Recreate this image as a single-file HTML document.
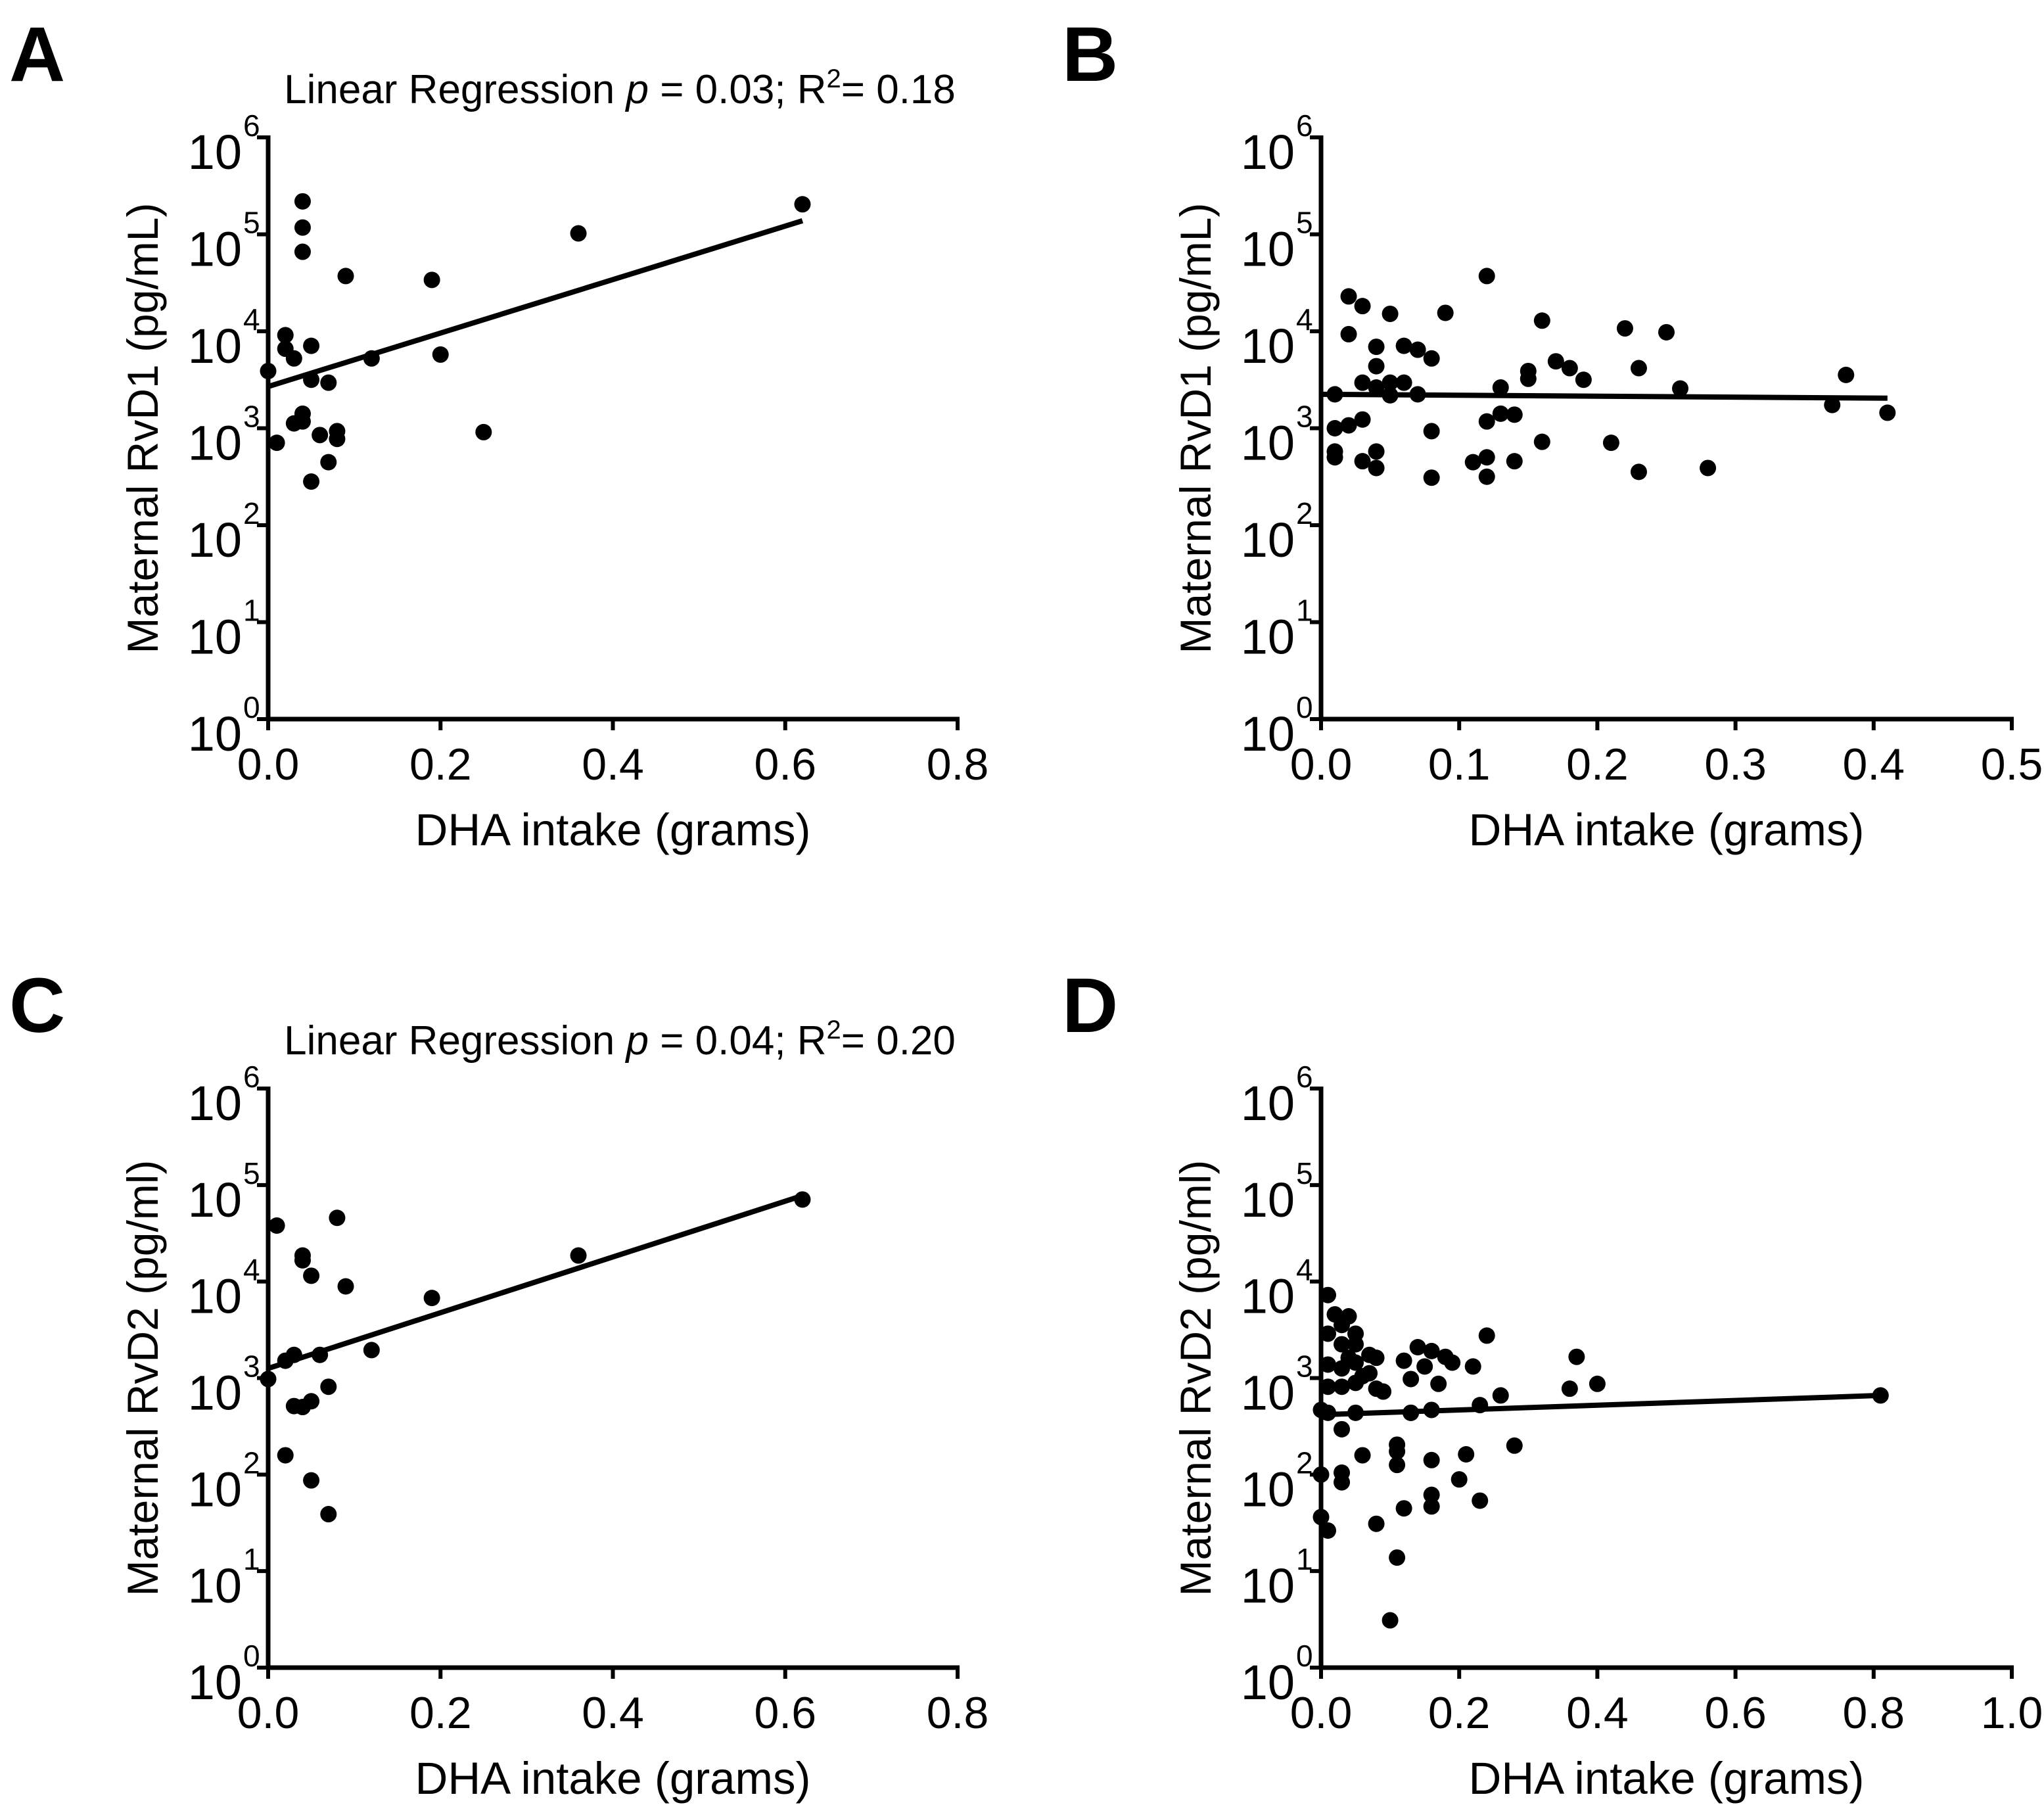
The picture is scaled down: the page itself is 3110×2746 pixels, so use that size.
<!DOCTYPE html>
<html><head><meta charset="utf-8"><style>
html,body{margin:0;padding:0;background:#fff;}
svg{display:block;font-family:"Liberation Sans",Arial,sans-serif;}
</style></head><body>
<svg id="fig" width="3110" height="2746" viewBox="0 0 3110 2746" xmlns="http://www.w3.org/2000/svg">
<rect width="3110" height="2746" fill="#fff"/>
</svg>
<script>
// Panel A data (DHA grams, log10 RvD1)
const aX = [0.04,0.04,0.04,0.09,0.19,0.36,0.62,0.02,0.02,0.03,0.05,0.0,0.12,0.20,0.05,0.07,0.04,0.04,0.03,0.01,0.06,0.08,0.08,0.25,0.07,0.05];
const aY = [5.34,5.07,4.82,4.57,4.53,5.01,5.31,3.96,3.82,3.72,3.85,3.59,3.72,3.76,3.50,3.47,3.15,3.07,3.05,2.85,2.93,2.97,2.89,2.96,2.65,2.45];
const aFit = [[0,3.43],[0.62,5.14]];
// Panel B
const bX = [0.02,0.03,0.05,0.09,0.12,0.02,0.04,0.06,0.07,0.08,0.16,0.17,0.18,0.19,0.15,0.15,0.22,0.23,0.25,0.26,0.04,0.03,0.04,0.05,0.05,0.06,0.07,0.01,0.13,0.38,0.37,0.41,0.03,0.02,0.01,0.08,0.12,0.13,0.14,0.16,0.21,0.01,0.01,0.03,0.04,0.04,0.11,0.12,0.14,0.08,0.12,0.23,0.28];
const bY = [4.36,4.26,4.18,4.19,4.57,3.97,3.84,3.85,3.81,3.72,4.11,3.69,3.62,3.50,3.59,3.51,4.03,3.62,3.99,3.41,3.64,3.47,3.42,3.47,3.34,3.47,3.35,3.35,3.42,3.55,3.24,3.16,3.09,3.03,3.00,2.97,3.07,3.15,3.14,2.86,2.85,2.76,2.70,2.66,2.76,2.59,2.65,2.70,2.66,2.49,2.50,2.55,2.59];
const bFit = [[0,3.35],[0.41,3.31]];
// Panel C
const cX = [0.01,0.08,0.04,0.04,0.05,0.09,0.19,0.36,0.62,0.12,0.02,0.03,0.06,0.0,0.07,0.03,0.04,0.05,0.02,0.05,0.07];
const cY = [4.58,4.66,4.27,4.22,4.06,3.95,3.83,4.27,4.85,3.29,3.18,3.24,3.24,2.99,2.91,2.71,2.70,2.76,2.20,1.94,1.59];
const cFit = [[0,3.10],[0.62,4.89]];
// Panel D
const dX = [0.01,0.02,0.03,0.04,0.05,0.01,0.01,0.03,0.05,0.04,0.07,0.08,0.03,0.05,0.07,0.05,0.06,0.01,0.03,0.08,0.0,0.01,0.03,0.05,0.09,0.14,0.12,0.16,0.18,0.19,0.13,0.15,0.17,0.13,0.16,0.24,0.22,0.23,0.26,0.37,0.36,0.40,0.81,0.0,0.03,0.03,0.06,0.08,0.11,0.11,0.11,0.12,0.13,0.16,0.16,0.16,0.20,0.21,0.23,0.28,0.0,0.01,0.11,0.10];
const dY = [3.86,3.66,3.55,3.64,3.46,3.46,3.14,3.35,3.35,3.21,3.24,3.21,3.10,3.16,3.05,2.95,3.02,2.91,2.91,2.89,2.67,2.64,2.47,2.64,2.86,3.32,3.18,3.28,3.22,3.16,2.99,3.12,2.94,2.64,2.67,3.44,3.12,2.72,2.82,3.22,2.89,2.94,2.82,2.00,2.02,1.92,2.20,1.49,2.31,2.24,2.10,1.65,2.64,2.15,1.79,1.67,1.95,2.21,1.73,2.30,1.56,1.42,1.14,0.49];
const dFit = [[0,2.62],[0.81,2.82]];
const xTicksA = ["0.0","0.2","0.4","0.6","0.8"];
const xTicksB = ["0.0","0.1","0.2","0.3","0.4","0.5"];
const xTicksD = ["0.0","0.2","0.4","0.6","0.8","1.0"];
const yExps = ["0","1","2","3","4","5","6"];

const NS = "http://www.w3.org/2000/svg";
const svg = document.getElementById('fig');
function mk(tag, attrs, parent, text){
  const e = document.createElementNS(NS, tag);
  for (const k in attrs) e.setAttribute(k, attrs[k]);
  if (text !== undefined) e.textContent = text;
  (parent||svg).appendChild(e);
  return e;
}

function panel(cfg){
  const g = mk('g', {});
  
  
  const xs = v => cfg.ax + (v / cfg.xmax) * (cfg.xEnd - cfg.ax);
  const ys = v => cfg.y0 - (v / 6) * (cfg.y0 - cfg.yTop);
  const ya = mk('line', {x1:cfg.ax, y1:cfg.yTop-3, x2:cfg.ax, y2:cfg.y0+3, stroke:'#000','stroke-width':7}, g);
  
  
  const xa = mk('line', {x1:cfg.ax-3, y1:cfg.y0, x2:cfg.xEnd+3, y2:cfg.y0, stroke:'#000','stroke-width':7}, g);
  
  
  yExps.forEach((e, i) => {
    const y = ys(i);
    mk('line', {x1:cfg.ax-17, y1:y, x2:cfg.ax, y2:y, stroke:'#000','stroke-width':6}, g);
    const t = mk('text', {x:cfg.ax-40, y:y+48, 'font-size':74, 'text-anchor':'end'}, g, '10');
    
    
    const s = mk('text', {x:cfg.ax-38, y:y-2, 'font-size':46, 'text-anchor':'start'}, g, e);
    
    
  });
  const n = cfg.xTicks.length - 1;
  cfg.xTicks.forEach((lab, i) => {
    const x = xs(cfg.xmax * i / n);
    mk('line', {x1:x, y1:cfg.y0, x2:x, y2:cfg.y0+17, stroke:'#000','stroke-width':6}, g);
    const t = mk('text', {x:x, y:cfg.y0+92, 'font-size':68, 'text-anchor':'middle'}, g, lab);
    
    
  });
  const xt = mk('text', {x:(cfg.ax+cfg.xEnd)/2, y:cfg.y0+192, 'font-size':69, 'text-anchor':'middle'}, g, 'DHA intake (grams)');
  
  
  const cy = (cfg.yTop+cfg.y0)/2;
  const yt = mk('text', {x:cfg.ax-168, y:cy, 'font-size':66, 'text-anchor':'middle', transform:`rotate(-90 ${cfg.ax-168} ${cy})`}, g, cfg.ylab);
  
  
  const L = mk('text', {x:cfg.ax-394, y:cfg.yTop-86, 'font-size':118, 'font-weight':'bold'}, g, cfg.letter);
  
  
  if (cfg.stat){
    const tt = mk('text', {x:cfg.ax+535, y:cfg.yTop-52, 'font-size':62, 'text-anchor':'middle'}, g);
    
    
    mk('tspan', {}, tt, 'Linear Regression ');
    mk('tspan', {'font-style':'italic'}, tt, 'p');
    mk('tspan', {}, tt, ' = ' + cfg.stat[0] + '; R');
    mk('tspan', {'font-size':40, dy:-24}, tt, '2');
    mk('tspan', {dy:24}, tt, '= ' + cfg.stat[1]);
  }
  const f = cfg.fit;
  const fl = mk('line', {x1:xs(f[0][0]), y1:ys(f[0][1]), x2:xs(f[1][0]), y2:ys(f[1][1]), stroke:'#000','stroke-width':8}, g);
  
  
  cfg.X.forEach((xv, i) => {
    const c = mk('circle', {cx:xs(xv), cy:ys(cfg.Y[i]), r:12.5, fill:'#000'}, g);
    
    
  });
}

panel({name:'panel-a', letter:'A', ax:408, xEnd:1457, xmax:0.8, yTop:209, y0:1094, xTicks:xTicksA, X:aX, Y:aY, fit:aFit, ylab:'Maternal RvD1 (pg/mL)', stat:['0.03','0.18']});
panel({name:'panel-b', letter:'B', ax:2010, xEnd:3061, xmax:0.5, yTop:209, y0:1094, xTicks:xTicksB, X:bX, Y:bY, fit:bFit, ylab:'Maternal RvD1 (pg/mL)'});
panel({name:'panel-c', letter:'C', ax:408, xEnd:1457, xmax:0.8, yTop:1656, y0:2537, xTicks:xTicksA, X:cX, Y:cY, fit:cFit, ylab:'Maternal RvD2 (pg/ml)', stat:['0.04','0.20']});
panel({name:'panel-d', letter:'D', ax:2010, xEnd:3061, xmax:1.0, yTop:1656, y0:2537, xTicks:xTicksD, X:dX, Y:dY, fit:dFit, ylab:'Maternal RvD2 (pg/ml)'});
</script>
</body></html>
